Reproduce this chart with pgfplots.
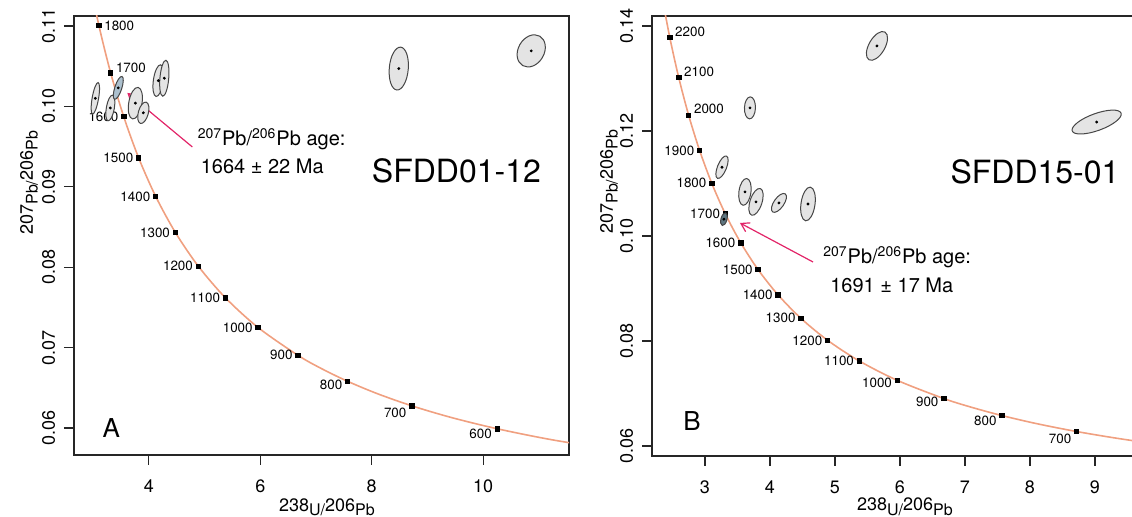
\documentclass[border=0pt]{standalone}
\usepackage{fontspec}
\setmainfont{TeX Gyre Heros}
\usepackage{pgfplots}
\usepackage{pgfplotstable}
\pgfplotsset{compat=1.18}
\usetikzlibrary{arrows.meta,shapes.geometric}

\definecolor{conc}{RGB}{240,160,128}
\definecolor{arr}{RGB}{226,36,104}
\definecolor{ellfill}{RGB}{228,228,228}
\definecolor{ellline}{RGB}{70,70,70}
\definecolor{ellA}{RGB}{172,192,206}
\definecolor{ellB}{RGB}{95,118,128}

\newcommand\agefont{\fontsize{6.7}{7}\selectfont}
\newcommand\lowered[1]{\raisebox{-0.5ex}{\fontsize{8}{9}\selectfont #1}}

% Tera-Wasserburg concordia, 500-2300 Ma
\pgfplotstableread{
x y
12.3993 0.057220
11.2279 0.058539
10.2518 0.059901
9.4259 0.061306
8.7182 0.062757
8.1049 0.064254
7.5683 0.065799
7.0950 0.067395
6.6743 0.069042
5.9593 0.072500
5.3746 0.076188
4.8875 0.080123
4.4756 0.084323
4.1227 0.088806
3.8170 0.093597
3.5497 0.098716
3.3140 0.104185
3.1046 0.110038
2.9174 0.116295
2.7490 0.122987
2.5968 0.130150
2.4586 0.137821
2.3324 0.146035
}\concordia

\pgfplotsset{
  zircon/.style={
    scale only axis, anchor=south west,
    axis line style={line width=0.6pt, black!85},
    tick align=outside, xtick pos=bottom, ytick pos=left,
    major tick length=5pt,
    tick style={line width=0.6pt, black!85},
    tick label style={font=\fontsize{9}{10}\selectfont},
    /pgf/number format/assume math mode=true,
    yticklabel style={rotate=90, anchor=base},
    xticklabel shift=4pt, yticklabel shift=4.5pt,
    label style={font=\fontsize{9}{10}\selectfont},
    xlabel={238\lowered{U/}206\lowered{Pb}},
    ylabel={207\lowered{Pb/}206\lowered{Pb}},
  },
  concline/.style={conc, line width=0.8pt, smooth, no marks},
  agemarks/.style={only marks, mark=square*, mark size=1.1pt, black,
    point meta=explicit symbolic, nodes near coords,
    visualization depends on={value \thisrow{anc}\as\labanc},
    every node near coord/.append style={anchor=\labanc, font=\agefont,
      inner sep=2.5pt, black}},
  ellipses/.style={only marks, mark=none,
    nodes near coords={},
    visualization depends on={value \thisrow{a}\as\elra},
    visualization depends on={value \thisrow{b}\as\elrb},
    visualization depends on={value \thisrow{rot}\as\elrot},
    visualization depends on={value \thisrow{fc}\as\elfc},
    every node near coord/.append style={anchor=center, ellipse,
      inner sep=0pt, outer sep=0pt, draw=ellline, line width=0.5pt,
      fill=\elfc, minimum width={2*\elra pt}, minimum height={2*\elrb pt},
      rotate=\elrot}},
  centres/.style={only marks, mark=*, mark size=0.5pt, black},
}

\begin{document}
\begin{tikzpicture}
\begin{axis}[zircon, at={(0,0)}, width=247.5pt, height=219.5pt,
  xmin=2.657, xmax=11.54, ymin=0.05664, ymax=0.11124,
  xtick={4,6,8,10}, xticklabels={4,6,8,10},
  ytick={0.06,0.07,0.08,0.09,0.10,0.11},
  yticklabels={0.06,0.07,0.08,0.09,0.10,0.11},
  xlabel style={at={(axis description cs:0.511,-0.128)}, anchor=base},
  ylabel style={at={(axis description cs:-0.083,0.62)}, anchor=base}]
\addplot[concline] table[x=x, y=y] {\concordia};
\addplot[agemarks] table[x=x, y=y, meta=age] {
x y age anc
10.2518 0.059901 600 16
8.7182 0.062757 700 22
7.5683 0.065799 800 11
6.6743 0.069042 900 0
5.9593 0.072500 1000 0
5.3746 0.076188 1100 0
4.8875 0.080123 1200 0
4.4756 0.084323 1300 0
4.1227 0.088806 1400 0
3.8170 0.093597 1500 0
3.5497 0.098716 1600 0
3.3140 0.104185 1700 193
3.1046 0.110038 1800 180
};
\addplot[ellipses] table[x=x, y=y] {
x y a b rot fc
3.040 0.1010 8 1.6 80 ellfill
3.309 0.0998 6.5 2 80 ellfill
3.758 0.1004 8 3.3 80 ellfill
3.901 0.0992 5.5 2.5 75 ellfill
4.171 0.1032 8 2.5 82 ellfill
4.278 0.1035 9 2.2 85 ellfill
8.485 0.1047 10.75 4.75 85 ellfill
10.862 0.1069 8.5 6.5 60 ellfill
3.452 0.1023 6 1.75 72 ellA
};
\addplot[centres] table {
3.040 0.1010
3.309 0.0998
3.758 0.1004
3.901 0.0992
4.171 0.1032
4.278 0.1035
8.485 0.1047
10.862 0.1069
3.452 0.1023
};
\draw[arr, line width=0.6pt, -{Straight Barb[length=4pt, width=5pt]}]
  (axis cs:4.781,0.09495) -- (axis cs:3.614,0.10167);
\node[anchor=west, inner sep=0pt, font=\fontsize{10}{12}\selectfont]
  at (axis cs:4.871,0.09594) {\textsuperscript{207}Pb/\textsuperscript{206}Pb age:};
\node[anchor=west, inner sep=0pt, font=\fontsize{10}{12}\selectfont]
  at (axis cs:4.925,0.09259) {1664 ± 22 Ma};
\node[font=\fontsize{16}{18}\selectfont] at (axis cs:9.52,0.09197) {SFDD01-12};
\node[font=\fontsize{13}{15}\selectfont] at (axis cs:3.327,0.0600) {A};
\end{axis}

\begin{axis}[zircon, at={(289pt,-0.5pt)}, width=254pt, height=220pt,
  xmin=2.185, xmax=10.0, ymin=0.0581, ymax=0.1419,
  xtick={3,4,5,6,7,8,9}, xticklabels={3,4,5,6,7,8,9},
  ytick={0.06,0.08,0.10,0.12,0.14},
  yticklabels={0.06,0.08,0.10,0.12,0.14},
  xlabel style={at={(axis description cs:0.498,-0.124)}, anchor=base},
  ylabel style={at={(axis description cs:-0.077,0.623)}, anchor=base}]
\addplot[concline] table[x=x, y=y] {\concordia};
\addplot[agemarks] table[x=x, y=y, meta=age] {
x y age anc
8.7182 0.062757 700 25
7.5683 0.065799 800 18
6.6743 0.069042 900 10
5.9593 0.072500 1000 7
5.3746 0.076188 1100 0
4.8875 0.080123 1200 0
4.4756 0.084323 1300 0
4.1227 0.088806 1400 0
3.8170 0.093597 1500 0
3.5497 0.098716 1600 0
3.3140 0.104185 1700 0
3.1046 0.110038 1800 0
2.9174 0.116295 1900 0
2.7490 0.122987 2000 198
2.5968 0.130150 2100 196
2.4586 0.137821 2200 195
};
\addplot[ellipses] table[x=x, y=y] {
x y a b rot fc
3.262 0.1131 6 2.25 68 ellfill
3.615 0.1084 6.75 3 82 ellfill
3.785 0.1065 7 3 72 ellfill
4.138 0.1063 5.5 2.5 55 ellfill
4.585 0.1061 8.5 3.5 82 ellfill
3.692 0.1244 5.5 2.75 88 ellfill
5.646 0.1362 8 4 60 ellfill
9.026 0.1217 13 4.25 20 ellfill
3.292 0.1032 3.25 1.5 75 ellB
};
\addplot[centres] table {
3.262 0.1131
3.615 0.1084
3.785 0.1065
4.138 0.1063
4.585 0.1061
3.692 0.1244
5.646 0.1362
9.026 0.1217
3.292 0.1032
};
\draw[arr, line width=0.6pt, -{Straight Barb[length=4pt, width=5pt]}]
  (axis cs:4.662,0.09505) -- (axis cs:3.538,0.10248);
\node[anchor=west, inner sep=0pt, font=\fontsize{10}{12}\selectfont]
  at (axis cs:4.815,0.0960) {\textsuperscript{207}Pb/\textsuperscript{206}Pb age:};
\node[anchor=west, inner sep=0pt, font=\fontsize{10}{12}\selectfont]
  at (axis cs:4.923,0.09067) {1691 ± 17 Ma};
\node[font=\fontsize{16}{18}\selectfont] at (axis cs:8.077,0.1123) {SFDD15-01};
\node[font=\fontsize{13}{15}\selectfont] at (axis cs:2.80,0.06476) {B};
\end{axis}
\pgfresetboundingbox
\useasboundingbox (-37pt,-31pt) rectangle (529pt,227.5pt);
\end{tikzpicture}
\end{document}
